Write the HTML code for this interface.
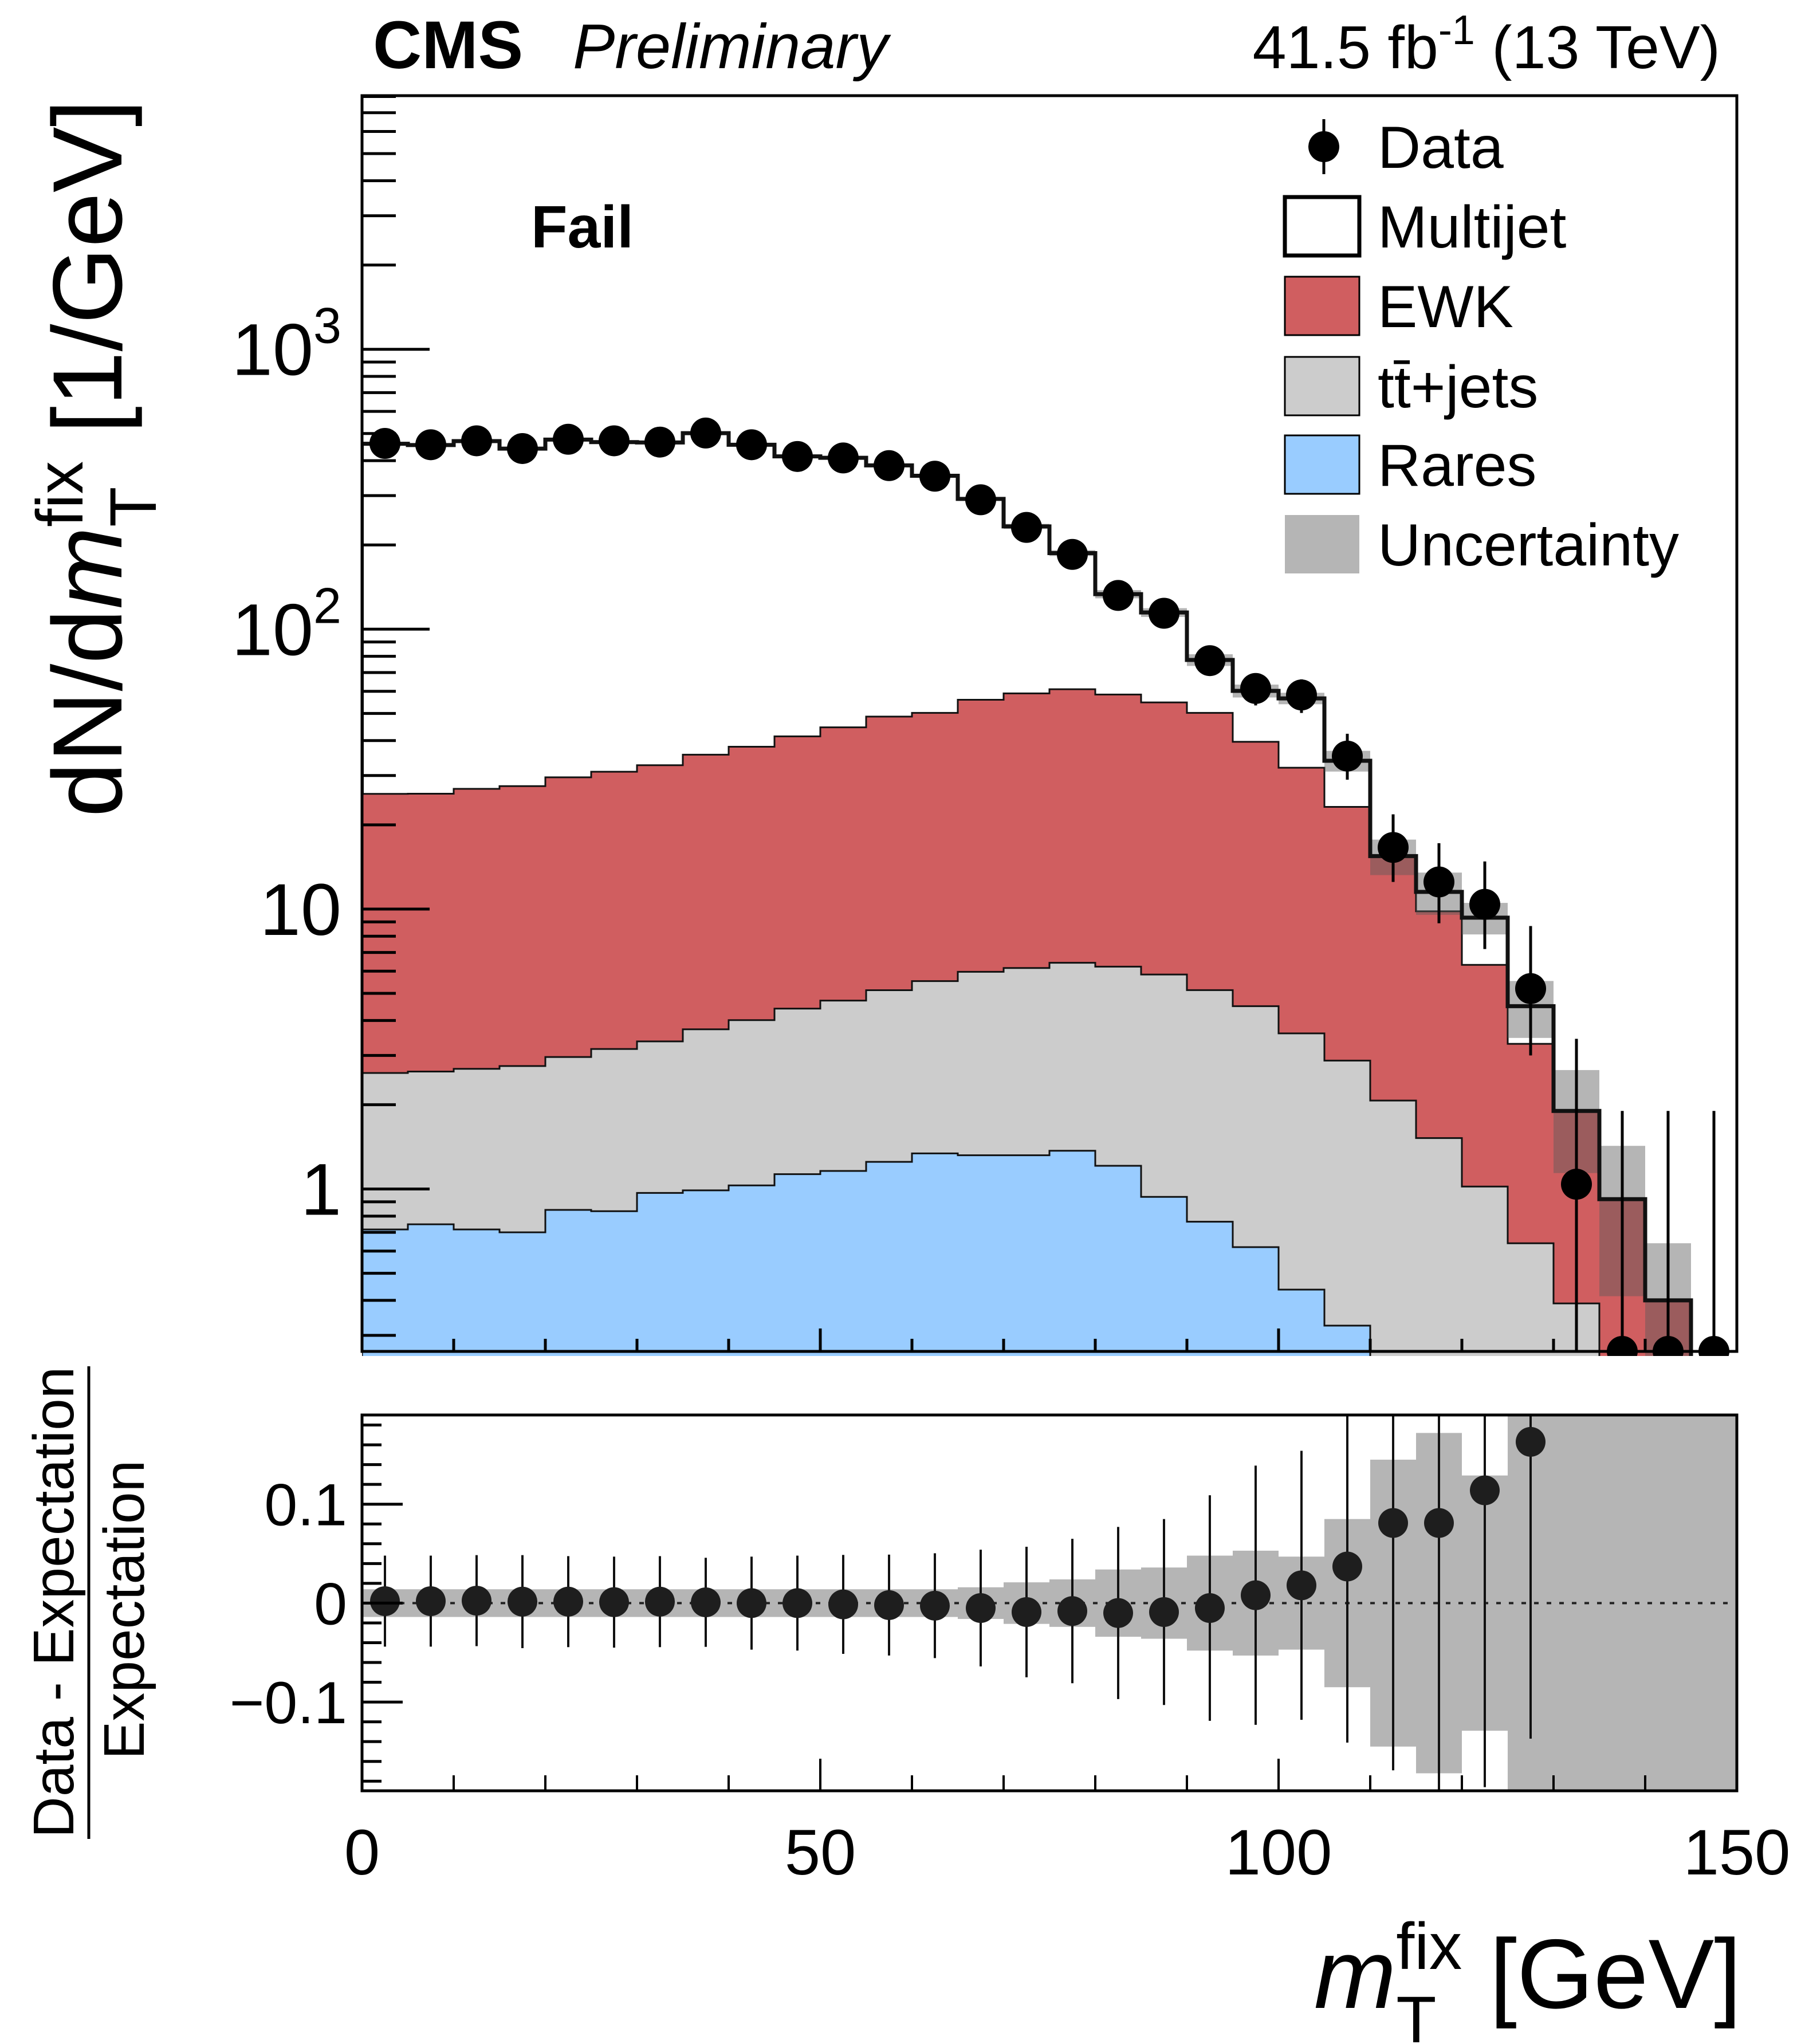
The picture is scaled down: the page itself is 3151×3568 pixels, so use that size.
<!DOCTYPE html>
<html><head><meta charset="utf-8"><style>
html,body{margin:0;padding:0;background:#fff;}
svg{display:block;font-family:"Liberation Sans",Arial,sans-serif;}
</style></head><body>
<svg id="chart" xmlns="http://www.w3.org/2000/svg" width="3151" height="3568" viewBox="0 0 3151 3568">
<defs>
<clipPath id="mainClip"><rect x="632" y="167" width="2400" height="2200"/></clipPath>
<clipPath id="ratioClip"><rect x="632" y="2470" width="2400" height="656"/></clipPath>
</defs>
<rect x="0" y="0" width="3151" height="3568" fill="#fff"/>
<g id="mainPlot" clip-path="url(#mainClip)"></g>
<g id="ratioPlot" clip-path="url(#ratioClip)"></g>
<g id="axes"></g>
<rect x="632" y="167" width="2400" height="2192" fill="none" stroke="#000" stroke-width="5"/>
<rect x="632" y="2470" width="2400" height="656" fill="none" stroke="#000" stroke-width="5"/>

<text x="651" y="119" font-size="118" font-weight="bold">CMS</text>
<text x="1000" y="119" font-size="110" font-style="italic">Preliminary</text>
<text x="3003" y="119" font-size="106" text-anchor="end">41.5 fb<tspan dy="-42" font-size="72">-1</tspan><tspan dy="42"> (13 TeV)</tspan></text>
<text x="927" y="432" font-size="104" font-weight="bold">Fail</text>

<text transform="translate(212,800) rotate(-90)" font-size="172" text-anchor="middle">dN/d<tspan font-style="italic">m</tspan><tspan dy="-68" font-size="115">fix</tspan><tspan dx="-115" dy="128" font-size="115">T</tspan><tspan dx="45" dy="-60"> [1/GeV]</tspan></text>

<g>
<text transform="translate(128,2797) rotate(-90)" font-size="100" text-anchor="middle">Data - Expectation</text>
<line x1="155" y1="2385" x2="155" y2="3210" stroke="#000" stroke-width="5"/>
<text transform="translate(251,2810) rotate(-90)" font-size="100" text-anchor="middle">Expectation</text>
</g>

<text x="3040" y="3505" font-size="172" text-anchor="end"><tspan font-style="italic">m</tspan><tspan dy="-68" font-size="115">fix</tspan><tspan dx="-115" dy="128" font-size="115">T</tspan><tspan dx="45" dy="-60"> [GeV]</tspan></text>

<g id="legend"></g>
</svg>
<script>
// ---- data (per 5 GeV bin, 0-150 GeV) ----
const binEdges = [0,5,10,15,20,25,30,35,40,45,50,55,60,65,70,75,80,85,90,95,100,105,110,115,120,125,130,135,140,145,150];
const rares = [0.717,0.748,0.717,0.70,0.842,0.833,0.968,0.989,1.03,1.13,1.16,1.25,1.34,1.32,1.32,1.37,1.21,0.937,0.764,0.62,0.437,0.325,0,0,0,0,0,0,0,0];
const ttbar = [1.88,1.88,1.97,2.05,2.12,2.33,2.40,2.73,2.98,3.28,3.55,3.88,4.19,4.65,4.84,5.06,5.02,4.90,4.37,3.88,3.16,2.55,2.07,1.52,1.02,0.64,0.39,0.2,0.1,0];
const ewk = [23.2,23.2,24.2,24.75,26.6,27.8,29.3,31.9,34.0,37.0,39.9,43.6,44.7,50.0,52.8,54.6,52.2,48.9,45.1,35.1,28.4,20.3,13.4,8.3,5.3,2.66,1.51,0.72,0.30,0];
const multijet = [434,429,443,414,446,435,432,466,418,373,365,336,303,236,174,126,75,60,27.4,20.6,24.6,10.7,0,1.7,3.0,1.2,0,0,0,0];
const uncRel = [0.014,0.014,0.014,0.014,0.014,0.014,0.014,0.014,0.014,0.014,0.014,0.014,0.014,0.016,0.021,0.024,0.034,0.036,0.048,0.053,0.047,0.085,0.145,0.172,0.129,0.23,0.4,0.55,0.6,1.0];
const dataVals = [461,456,471,442,477,471,466,502,456,414,409,384,352,290,231,185,132,114,77.2,61.4,58.2,35.2,16.6,12.5,10.4,5.2,1.04,0,0,0];
const dataErrUp = [18,18,18,18,19,18,18,20,18,17,17,16,15,13,11,10,8,8,6,8,8,7.1,5.2,4.7,4.4,3.5,2.4,1.9,1.9,1.9];
const dataErrDn = [18,18,18,18,19,18,18,20,18,17,17,16,15,13,11,10,8,8,6,8,8,6.2,4.1,3.6,3.2,2.2,1.04,0,0,0];
const ratioVals = [0.002,0.002,0.0025,0.0015,0.0015,0.001,0.0015,0.0008,0,0,-0.0013,-0.002,-0.0026,-0.005,-0.009,-0.008,-0.010,-0.009,-0.005,0.008,0.018,0.037,0.081,0.081,0.114,0.163];
const ratioErr = [0.046,0.046,0.046,0.047,0.046,0.046,0.046,0.045,0.047,0.048,0.050,0.051,0.053,0.059,0.066,0.073,0.087,0.094,0.114,0.131,0.136,0.178,0.25,0.3,0.3,0.3];
const xTickLabels = ["0","50","100","150"];
const xTickValues = [0,50,100,150];
const yTickLabels = ["1","10","10^2","10^3"];
const yTickValues = [1,10,100,1000];
const rTickLabels = ["\u22120.1","0","0.1"];
const rTickValues = [-0.1,0,0.1];

// ---- axes functions ----
const FX0=632, FX1=3032, FY0=167, FY1=2359, RY0=2470, RY1=3126;
function X(v){ return FX0 + v/150*(FX1-FX0); }
function Y(v){ if(v<=0) return FY1+400; return 2075.5 - Math.log10(v)*488.6; }
function RY(r){ return 2798.4 - r*1727; }
const NS="http://www.w3.org/2000/svg";
function mk(tag, attrs, parent){ const e=document.createElementNS(NS,tag); for(const k in attrs) e.setAttribute(k,attrs[k]); parent.appendChild(e); return e; }

const main=document.getElementById('mainPlot');
const ratio=document.getElementById('ratioPlot');
const axes=document.getElementById('axes');
const legend=document.getElementById('legend');
const nb = binEdges.length-1;

const topR=[],topT=[],topE=[],topS=[];
for(let i=0;i<nb;i++){ topR.push(rares[i]); topT.push(topR[i]+ttbar[i]); topE.push(topT[i]+ewk[i]); topS.push(topE[i]+multijet[i]); }

function stepPath(tops){
  let d='M'+X(binEdges[0])+','+(FY1+400);
  for(let i=0;i<nb;i++){ const y=Math.min(Y(tops[i]),FY1+400); d+=' L'+X(binEdges[i])+','+y+' L'+X(binEdges[i+1])+','+y; }
  d+=' L'+X(binEdges[nb])+','+(FY1+400)+' Z'; return d;
}
const layers=[[topS,'#ffffff',6,'stack-multijet'],[topE,'#d05e60',3,'stack-ewk'],[topT,'#cccccc',3,'stack-ttbar'],[topR,'#99ccff',3,'stack-rares']];
for(const [tops,col,w,name] of layers){
  const p=mk('path',{d:stepPath(tops),fill:col,stroke:'#111',"stroke-width":w},main);
  
  
}
for(let i=0;i<nb;i++){
  if(topS[i]<=0) continue;
  const up=Y(topS[i]*(1+uncRel[i])), dn=Y(Math.max(topS[i]*(1-uncRel[i]),1e-3));
  const r=mk('rect',{x:X(binEdges[i]),y:up,width:X(binEdges[i+1])-X(binEdges[i]),height:Math.max(dn-up,0),fill:'rgba(90,90,90,0.45)'},main);
  
  
}
{ let d=''; for(let i=0;i<nb;i++){ const y=Math.min(Y(topS[i]),FY1+400); d+=(i===0?'M':' L')+X(binEdges[i])+','+y+' L'+X(binEdges[i+1])+','+y; }
  const p=mk('path',{d:d,fill:'none',stroke:'#111',"stroke-width":7},main);
  
   }
for(let i=0;i<nb;i++){
  const cx=(X(binEdges[i])+X(binEdges[i+1]))/2;
  const v=dataVals[i];
  const cy = v>0 ? Y(v) : FY1;
  const yt = Y(v+dataErrUp[i]);
  const yb = (v-dataErrDn[i])>0 ? Y(v-dataErrDn[i]) : FY1;
  const l=mk('line',{x1:cx,y1:yt,x2:cx,y2:yb,stroke:'#000',"stroke-width":5},main);
  
  
  const c=mk('circle',{cx:cx,cy:cy,r:27,fill:'#000'},main);
  
  
}

for(let i=0;i<nb;i++){
  const u=Math.min(uncRel[i],0.5);
  const r=mk('rect',{x:X(binEdges[i]),y:RY(u),width:X(binEdges[i+1])-X(binEdges[i]),height:RY(-u)-RY(u),fill:'#b5b5b5'},ratio);
  
  
}
{ const l=mk('line',{x1:FX0,y1:RY(0),x2:FX1,y2:RY(0),stroke:'#222',"stroke-width":4,"stroke-dasharray":"8,14"},ratio);
  
   }
for(let i=0;i<ratioVals.length;i++){
  const cx=(X(binEdges[i])+X(binEdges[i+1]))/2;
  const l=mk('line',{x1:cx,y1:RY(ratioVals[i]+ratioErr[i]),x2:cx,y2:RY(ratioVals[i]-ratioErr[i]),stroke:'#111',"stroke-width":4},ratio);
  
  
  const c=mk('circle',{cx:cx,cy:RY(ratioVals[i]),r:26,fill:'#1e1e1e'},ratio);
  
  
}

for(let dec=-1;dec<=3;dec++){
  for(let m=1;m<=9;m++){
    const v=m*Math.pow(10,dec); const y=Y(v);
    if(y<FY0||y>FY1) continue;
    const len = m===1?118:59;
    const t=mk('line',{x1:FX0,y1:y,x2:FX0+len,y2:y,stroke:'#000',"stroke-width":5},axes);
    
    
  }
}
for(let i=0;i<yTickValues.length;i++){
  const y=Y(yTickValues[i]);
  const lab=yTickLabels[i];
  const t=mk('text',{x:596,y:y+45,"font-size":128,"text-anchor":"end"},axes);
  
  
  if(lab.indexOf('^')>=0){
    const [b,e]=lab.split('^');
    const s1=document.createElementNS(NS,'tspan'); s1.textContent=b; t.appendChild(s1);
    const s2=document.createElementNS(NS,'tspan'); s2.setAttribute('dy','-56'); s2.setAttribute('font-size','88'); s2.textContent=e; t.appendChild(s2);
  } else { t.textContent=lab; }
}
for(let v=0;v<=150;v+=10){
  const x=X(v); const major=(v%50===0);
  const t1=mk('line',{x1:x,y1:FY1,x2:x,y2:FY1-(major?40:22),stroke:'#000',"stroke-width":5},axes);
  
  
  const t2=mk('line',{x1:x,y1:RY1,x2:x,y2:RY1-(major?56:27),stroke:'#000',"stroke-width":4},axes);
  
  
}
for(let i=0;i<xTickValues.length;i++){
  const t=mk('text',{x:X(xTickValues[i]),y:3272,"font-size":112,"text-anchor":"middle"},axes);
  
  
  t.textContent=xTickLabels[i];
}
for(let k=-9;k<=9;k++){
  const r=k*0.02; const y=RY(r);
  if(y<RY0||y>RY1) continue;
  const major=(k%5===0);
  const t=mk('line',{x1:FX0,y1:y,x2:FX0+(major?71:34),y2:y,stroke:'#000',"stroke-width":5},axes);
  
  
}
for(let i=0;i<rTickValues.length;i++){
  const t=mk('text',{x:606,y:RY(rTickValues[i])+37,"font-size":104,"text-anchor":"end"},axes);
  
  
  t.textContent=rTickLabels[i];
}

const legendLabels=["Data","Multijet","EWK","tt\u0304+jets","Rares","Uncertainty"];
const legendFills=[null,'#ffffff','#d05e60','#cccccc','#99ccff','#b5b5b5'];
const legendNames=['legend-data','legend-multijet','legend-ewk','legend-ttbar','legend-rares','legend-uncertainty'];
const legendY=[256,395,534,674,811,950];
for(let i=0;i<legendLabels.length;i++){
  const y=legendY[i];
  const g=mk('g',{},legend);
  
  
  if(i===0){
    mk('line',{x1:2311,y1:y-48,x2:2311,y2:y+48,stroke:'#000',"stroke-width":5},g);
    mk('circle',{cx:2311,cy:y,r:27,fill:'#000'},g);
  } else {
    const attrs={x:2243,y:y-51,width:130,height:102,fill:legendFills[i]};
    if(i<5){ attrs.stroke='#000'; attrs['stroke-width']= i===1?7:3; }
    mk('rect',attrs,g);
  }
  const t=mk('text',{x:2405,y:y+37,"font-size":104},g);
  t.textContent=legendLabels[i];
}
</script>
</body></html>
